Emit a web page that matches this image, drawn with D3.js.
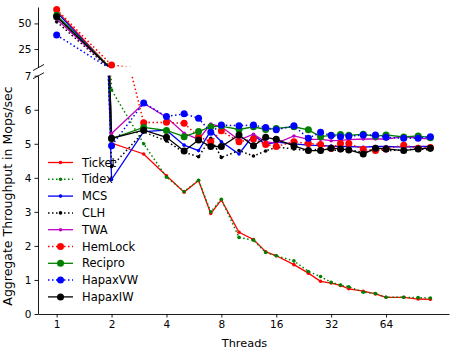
<!DOCTYPE html>
<html>
<head>
<meta charset="utf-8">
<script src="https://cdn.jsdelivr.net/npm/d3@7/dist/d3.min.js"></script>
<style>
  body { margin: 0; background: #fff; }
  text { font-family: "DejaVu Sans", sans-serif; fill: #000; }
</style>
</head>
<body>
<svg id="chart" width="457" height="357"></svg>
<script>
// threads on the x axis
var threads = [1, 2, 3, 4, 5, 6, 7, 8, 10, 12, 14, 16, 20, 24, 28, 32, 36, 40, 48, 56, 64, 80, 96, 112];
var xTicks = [1, 2, 4, 8, 16, 32, 64];
var lowTicks = [0, 1, 2, 3, 4, 5, 6, 7];
var highTicks = [25, 50];

var ticket  = [62.5, 5.02, 4.70, 4.06, 3.58, 3.92, 2.95, 3.35, 2.40, 2.19, 1.83, 1.71, 1.45, 1.20, 0.96, 0.91, 0.84, 0.74, 0.67, 0.59, 0.49, 0.49, 0.44, 0.43];
var tidex   = [56, 6.58, 5.00, 4.02, 3.60, 3.93, 3.00, 3.37, 2.25, 2.17, 1.81, 1.71, 1.56, 1.25, 1.10, 0.93, 0.85, 0.80, 0.64, 0.60, 0.49, 0.49, 0.48, 0.47];
var mcs     = [61, 3.95, 5.36, 5.40, 4.96, 4.80, 5.38, 5.06, 4.70, 5.26, 4.98, 5.05, 5.00, 4.96, 4.95, 4.93, 4.92, 4.92, 4.90, 4.92, 4.92, 4.90, 4.92, 4.92];
var clh     = [51.5, 4.33, 5.35, 5.08, 4.75, 4.62, 5.16, 4.60, 4.80, 4.64, 4.79, 4.90, 4.85, 4.80, 4.85, 4.82, 4.80, 4.82, 4.75, 4.83, 4.80, 4.82, 4.85, 4.82];
var twa     = [54, 5.30, 6.19, 5.78, 5.31, 5.13, 5.58, 5.50, 5.11, 5.28, 5.06, 5.01, 5.23, 5.13, 5.13, 5.09, 5.10, 5.12, 5.14, 5.14, 5.14, 5.21, 5.17, 5.14];
var hemlock = [63.5, 9.4, 5.62, 5.63, 5.60, 5.21, 5.06, 5.38, 5.06, 5.14, 4.98, 4.92, 5.06, 5.01, 4.98, 4.87, 5.01, 5.01, 4.84, 4.80, 4.85, 4.96, 4.87, 4.89];
var recipro = [58, 5.15, 5.48, 5.39, 5.21, 5.36, 5.50, 5.52, 5.42, 5.50, 5.42, 5.45, 5.50, 5.41, 5.21, 5.25, 5.27, 5.25, 5.28, 5.22, 5.26, 5.20, 5.23, 5.18];
var hapaxVW = [38.6, 4.94, 6.20, 5.80, 5.88, 5.75, 5.34, 5.55, 5.53, 5.55, 5.48, 5.41, 5.53, 5.16, 5.34, 5.24, 5.21, 5.22, 5.26, 5.26, 5.19, 5.16, 5.16, 5.21];
var hapaxIW = [56.5, 5.16, 5.40, 5.19, 4.79, 5.11, 4.92, 4.92, 5.26, 4.94, 5.19, 5.13, 4.94, 4.80, 4.80, 4.87, 4.85, 4.82, 4.70, 4.87, 4.85, 4.80, 4.85, 4.87];

var series = [
  {name: "Ticket",  values: ticket,  color: "#ff0000", dotted: false, big: false},
  {name: "Tidex",   values: tidex,   color: "#008000", dotted: true,  big: false},
  {name: "MCS",     values: mcs,     color: "#0000ff", dotted: false, big: false},
  {name: "CLH",     values: clh,     color: "#000000", dotted: true,  big: false},
  {name: "TWA",     values: twa,     color: "#bf00bf", dotted: false, big: false},
  {name: "HemLock", values: hemlock, color: "#ff0000", dotted: true,  big: true},
  {name: "Recipro", values: recipro, color: "#008000", dotted: false, big: true},
  {name: "HapaxVW", values: hapaxVW, color: "#0000ff", dotted: true,  big: true},
  {name: "HapaxIW", values: hapaxIW, color: "#000000", dotted: false, big: true}
];

const svg = d3.select("#chart");
const left = 38, right = 449;
const lowTop = 75.7, lowBottom = 314;
const highTop = 7, highBottom = 67.5;

var x = d3.scaleLog().base(2)
    .domain([Math.pow(2, -0.34), Math.pow(2, 7.147)])
    .range([left, right]);
var yLow = d3.scaleLinear().domain([0, 7]).range([lowBottom, lowTop]);
var yHigh = d3.scaleLinear().domain([7, 66]).range([highBottom, highTop]);

var defs = svg.append("defs");
defs.append("clipPath").attr("id", "clipLow")
    .append("rect").attr("x", left).attr("y", lowTop)
    .attr("width", right - left).attr("height", lowBottom - lowTop);
defs.append("clipPath").attr("id", "clipHigh")
    .append("rect").attr("x", left).attr("y", highTop)
    .attr("width", right - left).attr("height", highBottom - highTop - 1);

function drawPanel(y, clipId) {
  // lines are clipped to the panel, markers are only kept when inside it
  var g = svg.append("g");
  var lines = g.append("g").attr("clip-path", "url(#" + clipId + ")");
  var lo = y.domain()[0], hi = y.domain()[1];
  var line = d3.line()
      .x(function(d, i) { return x(threads[i]); })
      .y(function(d) { return y(d); });
  series.forEach(function(s) {
    lines.append("path")
        .attr("d", line(s.values))
        .attr("fill", "none")
        .attr("stroke", s.color)
        .attr("stroke-width", s.dotted ? 1.5 : 1.3)
        .attr("stroke-dasharray", s.dotted ? "1.5,2.5" : null);
    var pts = s.values
        .map(function(v, i) { return {t: threads[i], v: v}; })
        .filter(function(d) { return d.v >= lo && d.v <= hi; });
    g.selectAll(null)
        .data(pts)
        .enter()
        .append("circle")
        .attr("cx", function(d) { return x(d.t); })
        .attr("cy", function(d) { return y(d.v); })
        .attr("r", s.big ? 3.5 : 1.8)
        .attr("fill", s.color);
  });
}
drawPanel(yLow, "clipLow");
drawPanel(yHigh, "clipHigh");

// axes
var xAxis = svg.append("g")
    .attr("transform", "translate(0," + lowBottom + ")")
    .call(d3.axisBottom(x).tickValues(xTicks).tickFormat(d3.format("d"))
      .tickSize(3.5).tickSizeOuter(0).tickPadding(3));
var lowAxis = svg.append("g")
    .attr("transform", "translate(" + left + ",0)")
    .call(d3.axisLeft(yLow).tickValues(lowTicks).tickFormat(d3.format("d"))
      .tickSize(3.5).tickSizeOuter(0).tickPadding(3));
var highAxis = svg.append("g")
    .attr("transform", "translate(" + left + ",0)")
    .call(d3.axisLeft(yHigh).tickValues(highTicks).tickFormat(d3.format("d"))
      .tickSize(3.5).tickSizeOuter(0).tickPadding(3));

svg.selectAll(".tick text").style("font-size", "10.5px").attr("fill", "#000");
svg.selectAll(".domain, .tick line").attr("stroke", "#000").attr("stroke-width", 0.9);

// break marks
[highBottom, lowTop].forEach(function(yy) {
  svg.append("line")
      .attr("x1", left - 5).attr("y1", yy + 3)
      .attr("x2", left + 6).attr("y2", yy - 3)
      .attr("stroke", "#000").attr("stroke-width", 0.9);
});

// labels
svg.append("text")
    .attr("x", (left + right) / 2 + 1)
    .attr("y", 347)
    .attr("text-anchor", "middle")
    .style("font-size", "11.3px")
    .text("Threads");
svg.append("text")
    .attr("transform", "translate(12,196) rotate(-90)")
    .attr("text-anchor", "middle")
    .style("font-size", "12.5px")
    .text("Aggregate Throughput in Mops/sec");

// legend
var legend = svg.append("g").attr("class", "legend");
series.forEach(function(s, i) {
  var ly = 162.5 + i * 16.8;
  legend.append("line")
      .attr("x1", 48).attr("x2", 73)
      .attr("y1", ly).attr("y2", ly)
      .attr("stroke", s.color)
      .attr("stroke-width", s.dotted ? 1.5 : 1.3)
      .attr("stroke-dasharray", s.dotted ? "1.5,2.5" : null);
  legend.append("circle")
      .attr("cx", 60.5).attr("cy", ly)
      .attr("r", s.big ? 3.5 : 1.8)
      .attr("fill", s.color);
  legend.append("text")
      .attr("x", 82).attr("y", ly)
      .attr("dy", "0.35em")
      .style("font-size", "11.5px")
      .text(s.name);
});
</script>
</body>
</html>
